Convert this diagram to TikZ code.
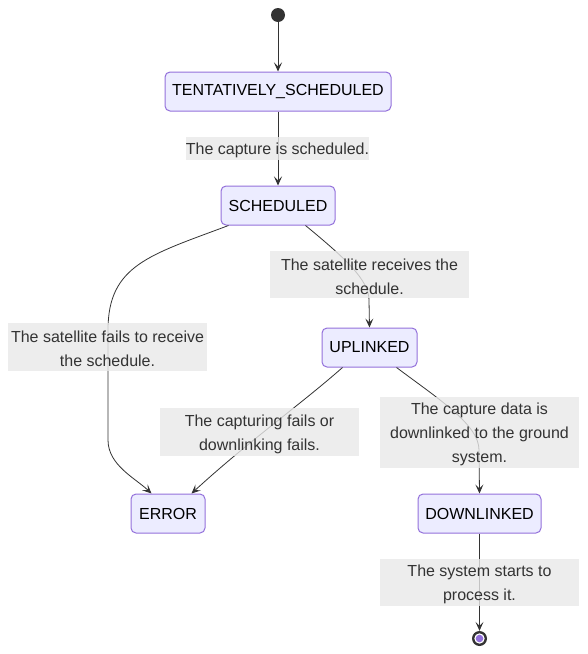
\documentclass[tikz,border=0pt]{standalone}
\usepackage{fontspec}
\setmainfont{Liberation Sans}
\usetikzlibrary{arrows.meta}
\definecolor{stfill}{HTML}{ECECFF}
\definecolor{stdraw}{HTML}{9370DB}
\definecolor{ink}{HTML}{333333}
\definecolor{lblbg}{HTML}{E8E8E8}
\newcommand{\lstrut}{\rule{0pt}{15.5pt}}
\tikzset{
  state/.style={draw=stdraw, fill=stfill, line width=1pt, rounded corners=5pt,
    minimum height=39pt, inner sep=0pt, text=black, font=\fontsize{16}{24}\selectfont},
  lbl/.style={fill=lblbg, fill opacity=0.8, text opacity=1, text=ink, inner sep=0pt,
    align=center, font=\fontsize{16}{24}\selectfont},
  edge/.style={draw=ink, line width=0.8pt, -{Stealth[length=9pt,width=8pt,inset=4pt]}},
}
\begin{document}
\begin{tikzpicture}[x=1pt,y=-1pt]
\useasboundingbox (0,0) rectangle (588,654);
% states
\node[circle, fill=ink, minimum size=14pt, inner sep=0pt] (start) at (278,15) {};
\node[state, minimum width=226pt] (ts) at (278,91.5) {TENTATIVELY\_SCHEDULED};
\node[state, minimum width=114pt] (sch) at (278,205.5) {SCHEDULED};
\node[state, minimum width=95pt] (upl) at (369.5,347.5) {UPLINKED};
\node[state, minimum width=74pt] (err) at (168,513.5) {ERROR};
\node[state, minimum width=123pt] (dwn) at (479.5,513.5) {DOWNLINKED};
\node[circle, fill=ink, minimum size=15pt, inner sep=0pt] (end) at (479.5,638.5) {};
\fill[white] (end.center) circle (5.2pt);
\fill[stdraw] (end.center) circle (3.8pt);
% edges
\draw[edge] (start) -- (ts);
\draw[edge] (ts) -- (sch);
\draw[edge] ([xshift=8pt]sch.south west) .. controls (150,255) and (108,265) .. (108,330)
   -- (108,440) .. controls (108,465) and (135,478) .. ([xshift=21pt]err.north west);
\draw[edge] ([xshift=-30pt]sch.south east) .. controls (345,258) and (369,280) .. (369,300)
   -- (upl.north);
\draw[edge] ([xshift=21pt]upl.south west) .. controls (300,405) and (250,440) .. ([xshift=-14pt]err.north east);
\draw[edge] ([xshift=-21pt]upl.south east) .. controls (440,400) and (479,425) .. (479,450)
   -- (dwn.north);
\draw[edge] (dwn) -- (end);
% labels
\node[lbl, minimum width=183pt, minimum height=23pt] (l1) at (277.5,148.5) {\lstrut The capture is scheduled.};
\node[lbl, minimum width=199pt, minimum height=47pt] (l2) at (369.5,274.5) {\lstrut The satellite receives the\\schedule.};
\node[lbl, minimum width=199pt, minimum height=48pt] (l3) at (107.5,347) {\lstrut The satellite fails to receive\\the schedule.};
\node[lbl, minimum width=199pt, minimum height=48pt] (l4) at (259.5,432) {\lstrut The capturing fails or\\downlinking fails.};
\node[lbl, minimum width=199pt, minimum height=71pt] (l5) at (479.5,432.5) {\lstrut The capture data is\\downlinked to the ground\\system.};
\node[lbl, minimum width=199pt, minimum height=47pt] (l6) at (479.5,582.5) {\lstrut The system starts to\\process it.};
\end{tikzpicture}
\end{document}
